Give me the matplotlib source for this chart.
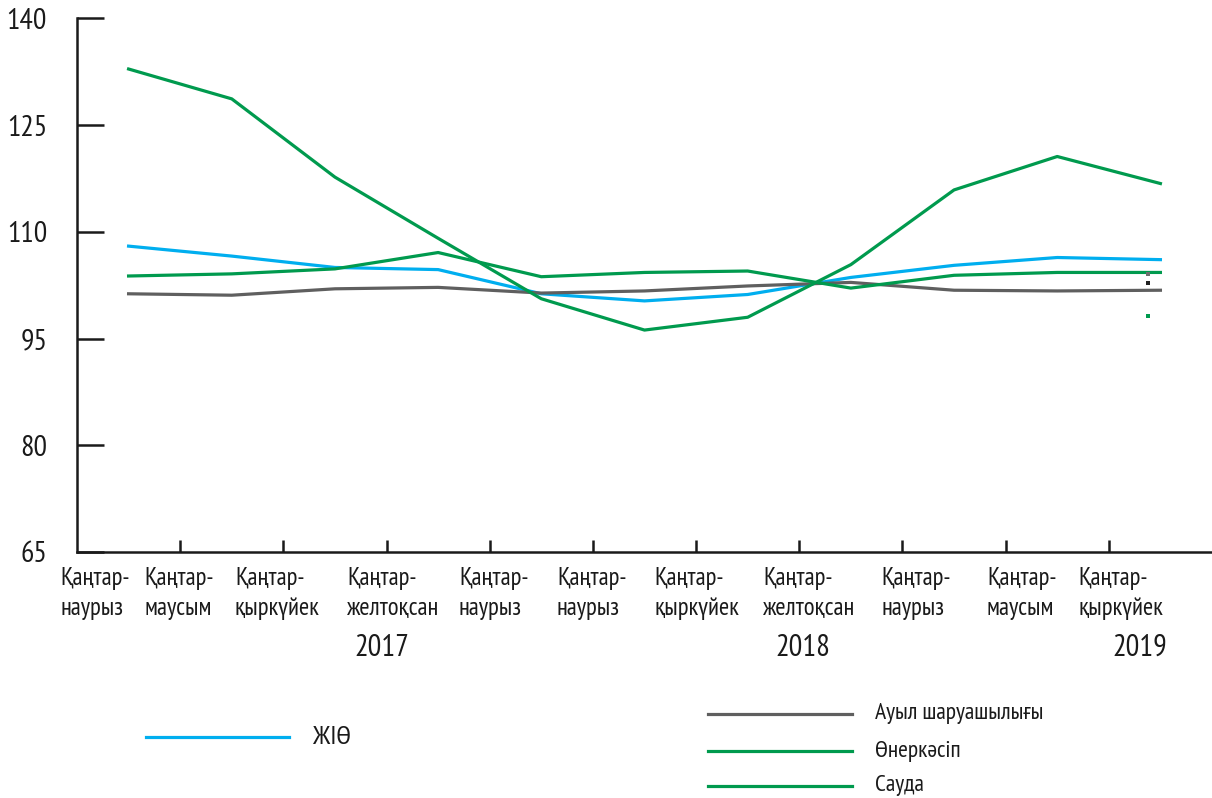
import numpy as np
import matplotlib
matplotlib.use("Agg")
import matplotlib.pyplot as plt

# Chart data (index values)
periods = ["Қаңтар-\nнаурыз", "Қаңтар-\nмаусым", "Қаңтар-\nқыркүйек", "Қаңтар-\nжелтоқсан",
           "Қаңтар-\nнаурыз", "Қаңтар-\nнаурыз", "Қаңтар-\nқыркүйек", "Қаңтар-\nжелтоқсан",
           "Қаңтар-\nнаурыз", "Қаңтар-\nмаусым", "Қаңтар-\nқыркүйек"]
years = ["2017", "2018", "2019"]

gdp      = [108.0, 106.6, 105.0, 104.7, 101.3, 100.3, 101.2, 103.6, 105.3, 106.4, 106.1]
agri     = [101.3, 101.1, 102.0, 102.2, 101.4, 101.7, 102.4, 102.9, 101.8, 101.7, 101.8]
industry = [103.8, 104.1, 104.8, 107.1, 103.7, 104.3, 104.5, 102.1, 103.9, 104.3, 104.3]
trade    = [132.9, 128.7, 117.7, 109.1, 100.6, 96.2, 98.0, 105.4, 115.9, 120.6, 116.8]

# stray little marks near the last point
stray_vals = [104.1, 102.8, 98.2]
stray_cols = ["#6d6d6d", "#222222", "#009a4e"]

W, H = 1212, 798
plt.rcParams["font.family"] = ["PT Sans Narrow", "DejaVu Sans"]

BLUE = "#00aeef"
GREEN = "#009a4e"
GRAY = "#5f5f5f"
INK = "#1a1a1a"

fig = plt.figure(figsize=(W / 100, H / 100), dpi=100)
ax = fig.add_axes([77 / W, 1 - 552 / H, 1 - 77 / W, (552 - 18.5) / H])

x = np.arange(len(gdp))
ax.plot(x, gdp, color=BLUE, lw=2.3)
ax.plot(x, agri, color=GRAY, lw=2.3)
ax.plot(x, industry, color=GREEN, lw=2.3)
ax.plot(x, trade, color=GREEN, lw=2.3)
for v, c in zip(stray_vals, stray_cols):
    ax.plot([x[-1] - 0.12], [v], "s", ms=2.2, color=c, mew=0)

ax.set_xlim(-0.5, len(gdp) - 0.5)
ax.set_ylim(65, 140)
ax.set_yticks(np.arange(65, 141, 15))
ax.set_xticks(x[:-1] + 0.5)
ax.set_xticklabels([])

for s in ["top", "right"]:
    ax.spines[s].set_visible(False)
for s in ["left", "bottom"]:
    ax.spines[s].set_linewidth(1.8)
    ax.spines[s].set_color(INK)

ax.tick_params(axis="y", direction="in", length=19.5, width=1.8, color=INK,
               labelsize=21.5, pad=21.5, labelcolor=INK)
ax.tick_params(axis="x", direction="in", length=9, width=1.8, color=INK)

# category labels (placed as in the original layout, left aligned)
label_left = [60, 144, 235, 347, 459, 557, 654, 763, 881, 987, 1078]
for lx, lab in zip(label_left, periods):
    top, bottom = lab.split("\n")
    fig.text(lx / W, 1 - 578 / H, top, fontsize=17.8, ha="left", va="center", color=INK)
    fig.text(lx / W, 1 - 609 / H, bottom, fontsize=17.8, ha="left", va="center", color=INK)

year_x = [382, 803, 1140]
for yx, yr in zip(year_x, years):
    fig.text(yx / W, 1 - 648 / H, yr, fontsize=22, ha="center", va="center", color=INK)

# legend drawn by hand as in the original
legend_items = [("ЖІӨ", BLUE, 146, 289, 737, 313, 19),
                ("Ауыл шаруашылығы", GRAY, 708, 852, 714, 875, 17),
                ("Өнеркәсіп", GREEN, 708, 852, 751, 875, 17),
                ("Сауда", GREEN, 708, 852, 786, 875, 17)]
for name, col, x0, x1, ly, tx, fs in legend_items:
    fig.add_artist(plt.Line2D([x0 / W, x1 / W], [1 - ly / H, 1 - ly / H],
                              color=col, lw=2.3, transform=fig.transFigure))
    fig.text(tx / W, 1 - ly / H, name, fontsize=fs, ha="left", va="center", color=INK)

fig.savefig("out.png", dpi=100)
